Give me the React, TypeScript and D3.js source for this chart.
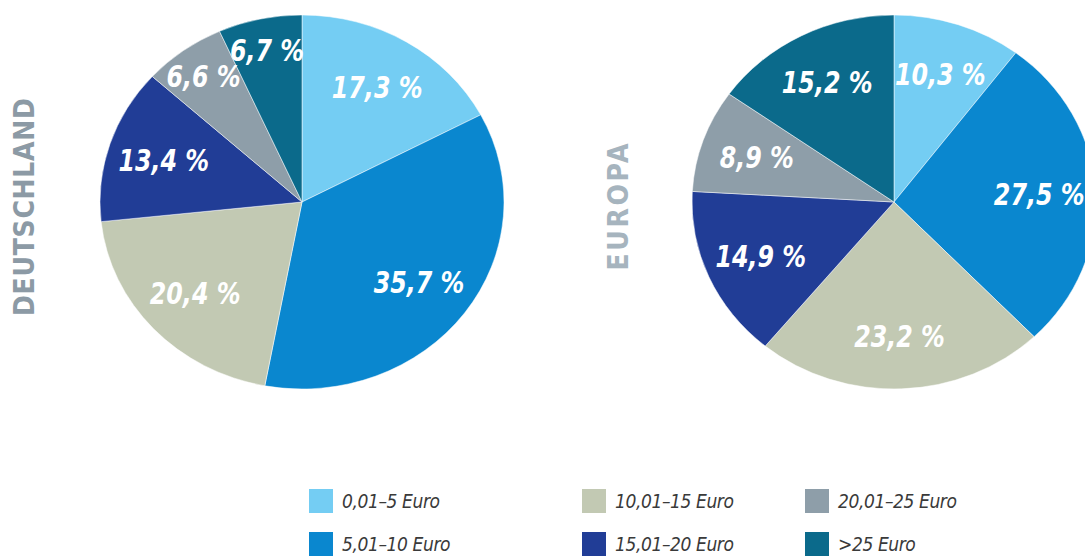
import React from 'react';
import * as d3 from 'd3';

// price bands (legend order = slice order, clockwise from 12 o'clock)
const categories = ['0,01–5 Euro', '5,01–10 Euro', '10,01–15 Euro', '15,01–20 Euro', '20,01–25 Euro', '>25 Euro'];
const deutschland = [17.3, 35.7, 20.4, 13.4, 6.6, 6.7];
const europa = [10.3, 27.5, 23.2, 14.9, 8.9, 15.2];
const regions = ['DEUTSCHLAND', 'EUROPA'];

const palette = ['#74cdf3', '#0a87cf', '#c2c9b3', '#213d96', '#8e9ea9', '#0b6a8b'];

const W = 1085;
const H = 556;
const RX = 202;
const RY = 187;

const de = d3.formatLocale({ decimal: ',', thousands: '.', grouping: [3], currency: ['', ' €'] });
const fmt = (v: number) => de.format('.1f')(v) + ' %';

const labelFont = "'DejaVu Sans Condensed', 'Liberation Sans Narrow', Roboto, sans-serif";

const Pie = ({ values, cx, cy, title, titleX, titleColor, titleLen }) => {
  const color = d3.scaleOrdinal<number, string>().domain(d3.range(categories.length)).range(palette);
  const arcs = d3.pie<number>().sort(null).value((d) => d)(values);
  const arc = d3.arc<d3.PieArcDatum<number>>().innerRadius(0).outerRadius(RY);

  return (
    <g>
      <g transform={`translate(${cx},${cy}) scale(${RX / RY},1)`}>
        {arcs.map((a, i) => (
          <path key={i} d={arc(a) || ''} fill={color(i)} stroke="#ffffff" strokeWidth={0.8} strokeOpacity={0.6} />
        ))}
      </g>
      {arcs.map((a, i) => {
        const mid = (a.startAngle + a.endAngle) / 2;
        const f = a.data < 8 ? 0.83 : 0.72;
        const x = cx + RX * f * Math.sin(mid);
        const y = cy - RY * f * Math.cos(mid);
        return (
          <text
            key={'l' + i}
            transform={`translate(${x},${y}) scale(0.88,1)`}
            dy="0.36em"
            textAnchor="middle"
            fill="#ffffff"
            fontFamily={labelFont}
            fontStretch="condensed"
            fontWeight="bold"
            fontStyle="italic"
            fontSize={30}
          >
            {fmt(a.data)}
          </text>
        );
      })}
      <text
        transform={`translate(${titleX},${cy + 5}) rotate(-90)`}
        textAnchor="middle"
        dy="0.36em"
        fill={titleColor}
        fontFamily={labelFont}
        fontStretch="condensed"
        fontWeight="bold"
        fontSize={28}
        textLength={titleLen}
        lengthAdjust="spacing"
      >
        {title}
      </text>
    </g>
  );
};

const Legend = () => {
  const colX = [309, 582, 805];
  const rowY = [489, 532];
  const color = d3.scaleOrdinal<number, string>().domain(d3.range(categories.length)).range(palette);
  return (
    <g>
      {categories.map((c, i) => {
        const x = colX[Math.floor(i / 2)];
        const y = rowY[i % 2];
        return (
          <g key={c} transform={`translate(${x},${y})`}>
            <rect width={24} height={24} fill={color(i)} />
            <text
              x={33}
              y={19}
              fill="#3a3a3a"
              fontFamily={labelFont}
              fontStretch="condensed"
              fontStyle="italic"
              fontSize={19}
              letterSpacing={-0.4}
            >
              {c}
            </text>
          </g>
        );
      })}
    </g>
  );
};

export default function App() {
  return (
    <svg
      width={W}
      height={H}
      style={{ position: 'absolute', left: 0, top: 0, background: '#ffffff' }}
    >
      <Pie values={deutschland} cx={302} cy={202} title={regions[0]} titleX={24} titleColor="#8c9aa5" titleLen={218} />
      <Pie values={europa} cx={894} cy={202} title={regions[1]} titleX={618} titleColor="#a6b4be" titleLen={127} />
      <Legend />
    </svg>
  );
}
